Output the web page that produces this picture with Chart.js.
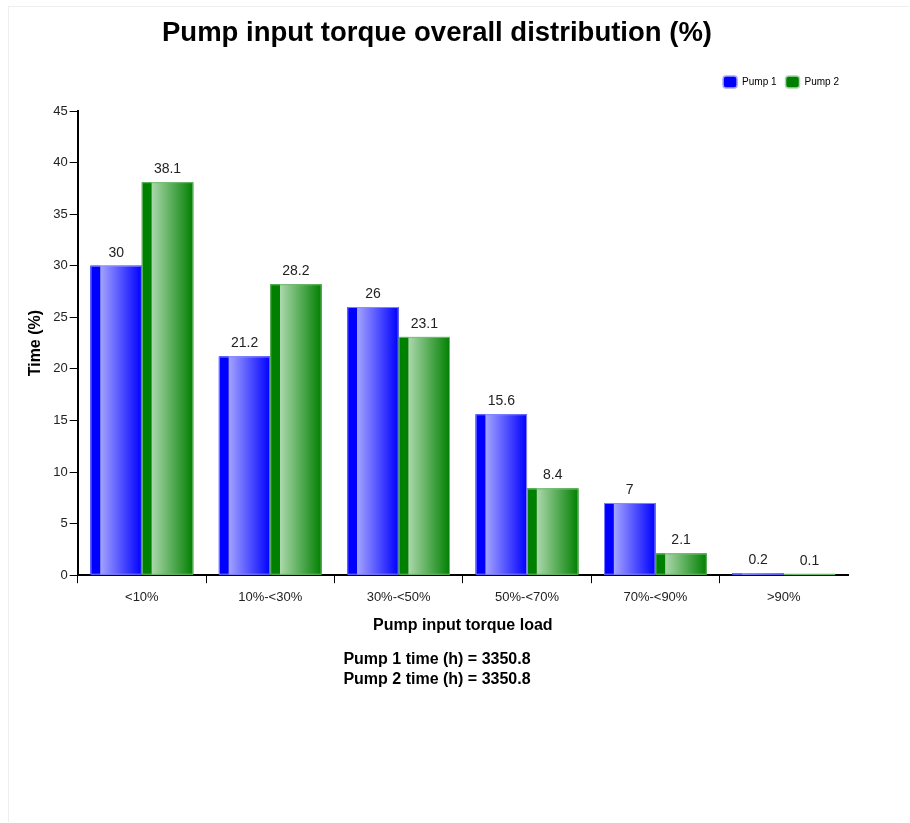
<!DOCTYPE html>
<html>
<head>
<meta charset="utf-8">
<title>Pump input torque overall distribution</title>
<script src="https://cdn.jsdelivr.net/npm/chart.js@4/dist/chart.umd.min.js"></script>
<style>
  html, body { margin: 0; padding: 0; background: #fff; }
  #frame {
    position: absolute; left: 8px; top: 6px; width: 900px; height: 815px;
    border-left: 1px solid #eee; border-top: 1px solid #eee;
  }
  #wrap { position: absolute; left: 8px; top: 6px; width: 854px; height: 700px; }
</style>
</head>
<body>
<div id="frame"></div>
<div id="wrap"><canvas id="chart"></canvas></div>
<script>
// categories and series
const categories = ['<10%', '10%-<30%', '30%-<50%', '50%-<70%', '70%-<90%', '>90%'];
const pump1 = [30, 21.2, 26, 15.6, 7, 0.2];
const pump2 = [38.1, 28.2, 23.1, 8.4, 2.1, 0.1];
const seriesNames = ['Pump 1', 'Pump 2'];
const footerLines = ['Pump 1 time (h) = 3350.8', 'Pump 2 time (h) = 3350.8'];

const FONT = 'Arial, "Liberation Sans", sans-serif';

// base colour + gradient stops for each series
const shades = [
  { solid: '#0000ff', light: '#a4a4ff', edge: 'rgba(140,140,255,0.9)' },
  { solid: '#008000', light: '#acd8ac', edge: 'rgba(120,190,120,0.9)' }
];

// extra room under the legend
const legendGap = {
  id: 'legendGap',
  beforeInit(chart) {
    const fit = chart.legend.fit;
    chart.legend.fit = function () {
      fit.call(this);
      this.height += 13;
    };
  }
};

// paint the glossy bars over the plain ones
const glossPlugin = {
  id: 'gloss',
  afterDatasetsDraw(chart) {
    const ctx = chart.ctx;
    chart.data.datasets.forEach((ds, i) => {
      const meta = chart.getDatasetMeta(i);
      const s = shades[i];
      meta.data.forEach(bar => {
        const left = bar.x - bar.width / 2;
        const h = bar.base - bar.y;
        if (h <= 0) return;
        const strip = bar.width * 0.19;
        const g = ctx.createLinearGradient(left + strip, 0, left + bar.width, 0);
        g.addColorStop(0, s.light);
        g.addColorStop(1, s.solid);
        ctx.save();
        ctx.fillStyle = s.solid;
        ctx.fillRect(left, bar.y, strip, h);
        ctx.fillStyle = g;
        ctx.fillRect(left + strip, bar.y, bar.width - strip, h);
        ctx.strokeStyle = s.edge;
        ctx.lineWidth = 1;
        ctx.strokeRect(left + 0.5, bar.y + 0.5, bar.width - 1, h - 1);
        ctx.restore();
      });
    });
  },
  afterDraw(chart) {
    // value labels above bars
    const ctx = chart.ctx;
    ctx.save();
    ctx.font = '14px ' + FONT;
    ctx.fillStyle = '#222';
    ctx.textAlign = 'center';
    ctx.textBaseline = 'bottom';
    chart.data.datasets.forEach((ds, i) => {
      chart.getDatasetMeta(i).data.forEach((bar, j) => {
        ctx.fillText(String(ds.data[j]), bar.x, bar.y - 6);
      });
    });
    ctx.restore();
  }
};

new Chart(document.getElementById('chart'), {
  type: 'bar',
  data: {
    labels: categories,
    datasets: [
      { label: seriesNames[0], data: pump1, backgroundColor: shades[0].solid, borderWidth: 0 },
      { label: seriesNames[1], data: pump2, backgroundColor: shades[1].solid, borderWidth: 0 }
    ]
  },
  options: {
    responsive: true,
    maintainAspectRatio: false,
    animation: false,
    datasets: { bar: { categoryPercentage: 0.8, barPercentage: 1.0 } },
    layout: { padding: { left: 18, right: 14, top: 0, bottom: 0 } },
    plugins: {
      title: {
        display: true,
        text: 'Pump input torque overall distribution (%)',
        color: '#000',
        font: { family: FONT, size: 27.5, weight: 'bold' },
        padding: { top: 11, bottom: 17 }
      },
      subtitle: {
        display: true,
        position: 'bottom',
        text: footerLines,
        color: '#000',
        font: { family: FONT, size: 16, weight: 'bold', lineHeight: 1.25 },
        padding: { top: 15, bottom: 16 }
      },
      legend: {
        align: 'end',
        labels: {
          color: '#222',
          font: { family: FONT, size: 10 },
          boxWidth: 14,
          boxHeight: 12,
          padding: 9,
          useBorderRadius: true,
          generateLabels(chart) {
            return chart.data.datasets.map((ds, i) => ({
              text: ds.label,
              fillStyle: shades[i].solid,
              strokeStyle: shades[i].light,
              lineWidth: 1.5,
              borderRadius: 3,
              datasetIndex: i
            }));
          }
        }
      },
      tooltip: { enabled: false }
    },
    scales: {
      x: {
        grid: {
          drawOnChartArea: false, drawTicks: true, tickLength: 8, offset: true,
          color: c => (c.tick === undefined ? 'rgba(0,0,0,0)' : '#000')
        },
        border: { color: '#000', width: 2 },
        ticks: { color: '#222', font: { family: FONT, size: 13 }, padding: 6 },
        title: {
          display: true,
          text: 'Pump input torque load',
          color: '#000',
          font: { family: FONT, size: 16, weight: 'bold' },
          padding: { top: 5, bottom: 0 }
        }
      },
      y: {
        min: 0,
        max: 45,
        ticks: { stepSize: 5, color: '#222', font: { family: FONT, size: 13 }, padding: 2 },
        grid: { drawOnChartArea: false, drawTicks: true, tickLength: 8, color: '#000' },
        border: { color: '#000', width: 2 },
        title: {
          display: true,
          text: 'Time (%)',
          color: '#000',
          font: { family: FONT, size: 16, weight: 'bold' },
          padding: { top: 0, bottom: 6 }
        }
      }
    }
  },
  plugins: [legendGap, glossPlugin]
});
</script>
</body>
</html>
